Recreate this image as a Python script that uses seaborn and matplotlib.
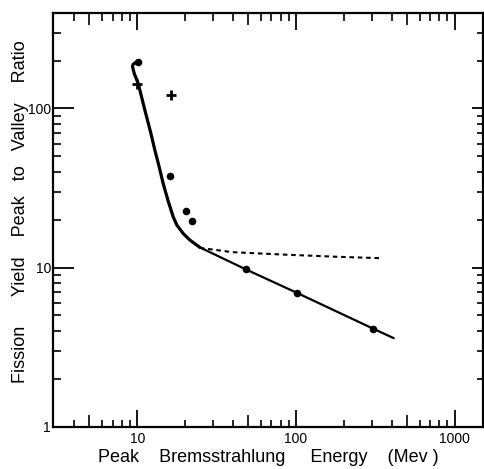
import matplotlib
matplotlib.use("Agg")
import matplotlib.pyplot as plt
import seaborn as sns
from matplotlib.ticker import FixedLocator, FixedFormatter, NullFormatter

# ---- data ----
circle_energy = [10.15, 16.1, 20.2, 22.2, 48.3, 101, 305]
circle_ratio = [196, 37.6, 22.8, 19.7, 9.8, 6.9, 4.12]
plus_energy = [10.0, 16.3]
plus_ratio = [143, 121]
curve_energy = [9.75, 9.45, 9.33, 9.6, 10.15, 11.11, 12.2, 12.92, 13.75, 14.57,
                15.6, 16.84, 17.77, 19.47, 21.45, 24.8]
curve_ratio = [194, 190, 184, 165, 143.5, 100, 69.7, 54.7, 43.0, 33.8,
               26.6, 20.9, 18.5, 16.4, 14.9, 13.4]
line_energy = [24.8, 48.3, 101, 305, 413]
line_ratio = [13.4, 9.75, 6.95, 4.14, 3.6]
dash_energy = [24.8, 40, 79, 180, 352]
dash_ratio = [13.3, 12.5, 12.1, 11.7, 11.45]

x_major = [10, 100, 1000]
x_major_labels = ["10", "100", "1000"]
y_major = [1, 10, 100]
y_major_labels = ["1", "10", "100"]
x_minor = [4, 5, 6, 7, 8, 9, 20, 30, 40, 50, 60, 70, 80, 90, 200, 300, 400, 500, 600, 700, 800, 900]
x_medium = [5, 50, 500]
y_minor = [2, 3, 4, 5, 6, 7, 8, 9, 20, 30, 40, 50, 60, 70, 80, 90, 200, 300]

sns.set_style("ticks")
plt.rcParams["font.family"] = ["Liberation Sans", "DejaVu Sans"]
plt.rcParams["text.color"] = "black"
plt.rcParams["axes.labelcolor"] = "black"
plt.rcParams["xtick.color"] = "black"
plt.rcParams["ytick.color"] = "black"

fig = plt.figure(figsize=(4.85, 4.69), dpi=100)
ax = fig.add_axes([0.1093, 0.0902, 0.886, 0.8827])
ax.set_xscale("log")
ax.set_yscale("log")
ax.set_xlim(2.95, 1500)
ax.set_ylim(1, 400)

sns.lineplot(x=curve_energy, y=curve_ratio, sort=False, estimator=None,
             color="black", linewidth=2.3, ax=ax)
sns.lineplot(x=line_energy, y=line_ratio, sort=False, estimator=None,
             color="black", linewidth=1.6, ax=ax)
sns.lineplot(x=dash_energy, y=dash_ratio, sort=False, estimator=None,
             color="black", linewidth=1.5, linestyle=(0, (2.2, 1.8)), ax=ax)
sns.scatterplot(x=circle_energy, y=circle_ratio, marker="o", s=30,
                color="black", edgecolor="black", linewidth=0, zorder=5, ax=ax)
sns.scatterplot(x=plus_energy, y=plus_ratio, marker="+", s=55,
                color="black", linewidth=2.0, zorder=5, ax=ax)

for sp in ax.spines.values():
    sp.set_linewidth(1.6)
    sp.set_color("black")

ax.xaxis.set_major_locator(FixedLocator(x_major))
ax.xaxis.set_major_formatter(FixedFormatter(x_major_labels))
ax.xaxis.set_minor_locator(FixedLocator(x_minor))
ax.xaxis.set_minor_formatter(NullFormatter())
ax.yaxis.set_major_locator(FixedLocator(y_major))
ax.yaxis.set_major_formatter(FixedFormatter(y_major_labels))
ax.yaxis.set_minor_locator(FixedLocator(y_minor))
ax.yaxis.set_minor_formatter(NullFormatter())

ax.tick_params(axis="x", which="major", direction="in", length=12, width=1.3,
               labelsize=10, pad=4, top=False, bottom=True, colors="black")
ax.tick_params(axis="x", which="minor", direction="in", length=5, width=1.2,
               top=False, bottom=True, colors="black")
ax.tick_params(axis="y", which="major", direction="in", length=15, width=1.3,
               labelsize=10, pad=1.5, left=True, right=False, colors="black")
ax.tick_params(axis="y", which="minor", direction="in", length=6, width=1.2,
               left=True, right=False, colors="black")

# medium ticks at 5, 50, 500
for t, loc in zip(ax.xaxis.get_minor_ticks(), x_minor):
    if loc in x_medium:
        t.tick1line.set_markersize(8.5)

# top axis ticks
top = ax.secondary_xaxis("top")
top.xaxis.set_major_locator(FixedLocator(x_major))
top.xaxis.set_minor_locator(FixedLocator(x_minor))
top.xaxis.set_major_formatter(NullFormatter())
top.xaxis.set_minor_formatter(NullFormatter())
top.tick_params(axis="x", which="major", direction="in", length=12, width=1.3, colors="black")
top.tick_params(axis="x", which="minor", direction="in", length=6, width=1.2, colors="black")
top.spines["top"].set_visible(False)
for t, loc in zip(top.xaxis.get_minor_ticks(), x_minor):
    if loc in x_medium:
        t.tick2line.set_markersize(8.5)
        t.tick1line.set_markersize(8.5)

# right axis ticks
right = ax.secondary_yaxis("right")
right.yaxis.set_major_locator(FixedLocator(y_major))
right.yaxis.set_minor_locator(FixedLocator(y_minor))
right.yaxis.set_major_formatter(NullFormatter())
right.yaxis.set_minor_formatter(NullFormatter())
right.tick_params(axis="y", which="major", direction="in", length=8, width=1.3, colors="black")
right.tick_params(axis="y", which="minor", direction="in", length=4, width=1.2, colors="black")
right.spines["right"].set_visible(False)

ax.set_xlabel("Peak    Bremsstrahlung     Energy    (Mev )", fontsize=13,
              labelpad=2, color="black")
ax.set_ylabel("Fission      Yield    Peak   to   Valley    Ratio", fontsize=13,
              color="black")
ax.yaxis.set_label_coords(-0.056, 0.52)

fig.savefig("out.png", dpi=100)
